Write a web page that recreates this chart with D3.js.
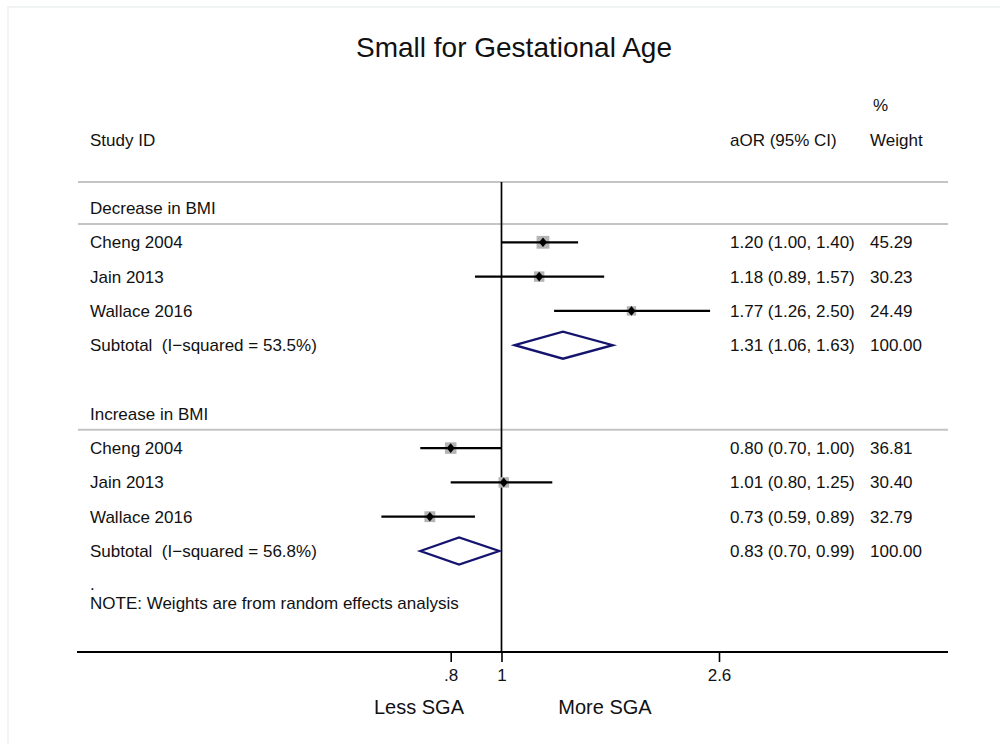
<!DOCTYPE html>
<html>
<head>
<meta charset="utf-8">
<script src="https://cdn.jsdelivr.net/npm/d3@7"></script>
<style>
  html, body { margin: 0; padding: 0; background: #fff; }
  svg { display: block; }
  text { font-family: "Liberation Sans", Arial, Helvetica, sans-serif; fill: #111; white-space: pre; }
</style>
</head>
<body>
<svg id="chart" width="1000" height="744"></svg>
<script>
// ---- data ----
const title = "Small for Gestational Age";
const studies = ["Cheng 2004", "Jain 2013", "Wallace 2016"];

const groupNames = ["Decrease in BMI", "Increase in BMI"];

const decreaseOR = [1.20, 1.18, 1.77];
const decreaseLo = [1.00, 0.89, 1.26];
const decreaseHi = [1.40, 1.57, 2.50];
const decreaseWt = [45.29, 30.23, 24.49];
const decreaseSub = [1.31, 1.06, 1.63];
const decreaseI2 = 53.5;

const increaseOR = [0.80, 1.01, 0.73];
const increaseLo = [0.70, 0.80, 0.59];
const increaseHi = [1.00, 1.25, 0.89];
const increaseWt = [36.81, 30.40, 32.79];
const increaseSub = [0.83, 0.70, 0.99];
const increaseI2 = 56.8;

const tickValues = [0.8, 1, 2.6];
const tickLabels = [".8", "1", "2.6"];
const sideLabels = ["Less SGA", "More SGA"];
const noteText = "NOTE: Weights are from random effects analysis";

// ---- build rows ----
function groupRows(name, or, lo, hi, wt, sub, i2) {
  const r = [{ type: "header", label: name }];
  studies.forEach((s, i) => r.push({ type: "study", label: s, est: or[i], lo: lo[i], hi: hi[i], wt: wt[i] }));
  r.push({ type: "subtotal", label: `Subtotal  (I\u2212squared = ${i2.toFixed(1)}%)`, est: sub[0], lo: sub[1], hi: sub[2], wt: 100 });
  return r;
}
const rows = [
  ...groupRows(groupNames[0], decreaseOR, decreaseLo, decreaseHi, decreaseWt, decreaseSub, decreaseI2),
  { type: "blank" },
  ...groupRows(groupNames[1], increaseOR, increaseLo, increaseHi, increaseWt, increaseSub, increaseI2)
];

const fmt2 = d3.format(".2f");

// ---- layout ----
const svg = d3.select("#chart");
const left = 78, right = 948;
const labelX = 90, ciX = 730, wtX = 870;
const fs = 17;

const x = d3.scaleLog().domain([0.8, 2.6]).range([450.7, 719]);
const y = d3.scaleLinear().domain([0, rows.length - 1]).range([208, 551]);
const side = d3.scaleSqrt().domain([0, 100]).range([0, 19]);

const topLineY = 182, axisY = 652;

// faint outer frame
svg.append("rect").attr("x", 8).attr("y", 7).attr("width", 1010).attr("height", 760)
  .attr("fill", "none").attr("stroke", "#edf1f1").attr("stroke-width", 1.5);

// title
svg.append("text").attr("x", 514).attr("y", 57).attr("text-anchor", "middle")
  .attr("font-size", 28).text(title);

// column headings
svg.append("text").attr("x", wtX + 3).attr("y", 111).attr("font-size", fs).text("%");
svg.append("text").attr("x", labelX).attr("y", 146).attr("font-size", fs).text("Study ID");
svg.append("text").attr("x", ciX).attr("y", 146).attr("font-size", fs).text("aOR (95% CI)");
svg.append("text").attr("x", wtX).attr("y", 146).attr("font-size", fs).text("Weight");

// heading rule and group rules
svg.append("line").attr("x1", left).attr("x2", right).attr("y1", topLineY).attr("y2", topLineY)
  .attr("stroke", "#c4c4c4").attr("stroke-width", 2);
rows.forEach((r, i) => {
  if (r.type === "header") {
    svg.append("line").attr("x1", left).attr("x2", right)
      .attr("y1", y(i) + 16).attr("y2", y(i) + 16)
      .attr("stroke", "#c4c4c4").attr("stroke-width", 2);
  }
});

// null line
svg.append("line").attr("x1", x(1)).attr("x2", x(1)).attr("y1", topLineY).attr("y2", axisY)
  .attr("stroke", "#000").attr("stroke-width", 1.7);

// row texts
const textRows = rows.map((r, i) => ({ ...r, i })).filter(r => r.type !== "blank");
svg.append("g").selectAll("text").data(textRows).join("text")
  .attr("x", labelX).attr("y", d => y(d.i) + 6).attr("font-size", fs).text(d => d.label);

const valRows = textRows.filter(r => r.type !== "header");
svg.append("g").selectAll("text").data(valRows).join("text")
  .attr("x", ciX).attr("y", d => y(d.i) + 6).attr("font-size", fs)
  .text(d => `${fmt2(d.est)} (${fmt2(d.lo)}, ${fmt2(d.hi)})`);
svg.append("g").selectAll("text").data(valRows).join("text")
  .attr("x", wtX).attr("y", d => y(d.i) + 6).attr("font-size", fs)
  .text(d => fmt2(d.wt));

// study markers
const studyRows = textRows.filter(r => r.type === "study");
const g = svg.append("g");
g.selectAll("rect.box").data(studyRows).join("rect").attr("class", "box")
  .attr("x", d => x(d.est) - side(d.wt) / 2).attr("y", d => y(d.i) - side(d.wt) / 2)
  .attr("width", d => side(d.wt)).attr("height", d => side(d.wt))
  .attr("fill", "#b4b4b4");
g.selectAll("line.ci").data(studyRows).join("line").attr("class", "ci")
  .attr("x1", d => x(d.lo)).attr("x2", d => x(d.hi))
  .attr("y1", d => y(d.i)).attr("y2", d => y(d.i))
  .attr("stroke", "#000").attr("stroke-width", 2.3);
g.selectAll("path.pt").data(studyRows).join("path").attr("class", "pt")
  .attr("d", d => {
    const cx = x(d.est), cy = y(d.i), w = 4, h = 4.8;
    return `M${cx},${cy - h}L${cx + w},${cy}L${cx},${cy + h}L${cx - w},${cy}Z`;
  })
  .attr("fill", "#000");

// pooled diamonds
const subRows = textRows.filter(r => r.type === "subtotal");
svg.append("g").selectAll("path").data(subRows).join("path")
  .attr("d", d => {
    const cy = y(d.i), h = 13.5;
    return `M${x(d.lo)},${cy}L${x(d.est)},${cy - h}L${x(d.hi)},${cy}L${x(d.est)},${cy + h}Z`;
  })
  .attr("fill", "none").attr("stroke", "#14146e").attr("stroke-width", 2.3)
  .attr("stroke-linejoin", "miter");

// note
svg.append("text").attr("x", labelX).attr("y", 590).attr("font-size", fs).text(".");
svg.append("text").attr("x", labelX).attr("y", 609).attr("font-size", fs).text(noteText);

// x axis
svg.append("line").attr("x1", left - 1).attr("x2", right).attr("y1", axisY).attr("y2", axisY)
  .attr("stroke", "#000").attr("stroke-width", 1.8);
const axis = d3.axisBottom(x).tickValues(tickValues)
  .tickFormat((d, i) => tickLabels[i]).tickSize(10).tickPadding(7);
const ag = svg.append("g").attr("transform", `translate(0,${axisY})`).call(axis);
ag.select(".domain").remove();
ag.selectAll(".tick line").attr("stroke", "#000").attr("stroke-width", 1.6);
ag.selectAll(".tick text").attr("font-size", fs)
  .attr("font-family", "'Liberation Sans', Arial, sans-serif").attr("fill", "#111");

// direction labels
svg.append("text").attr("x", 419).attr("y", 714).attr("text-anchor", "middle")
  .attr("font-size", 20).text(sideLabels[0]);
svg.append("text").attr("x", 605).attr("y", 714).attr("text-anchor", "middle")
  .attr("font-size", 20).text(sideLabels[1]);
</script>
</body>
</html>
